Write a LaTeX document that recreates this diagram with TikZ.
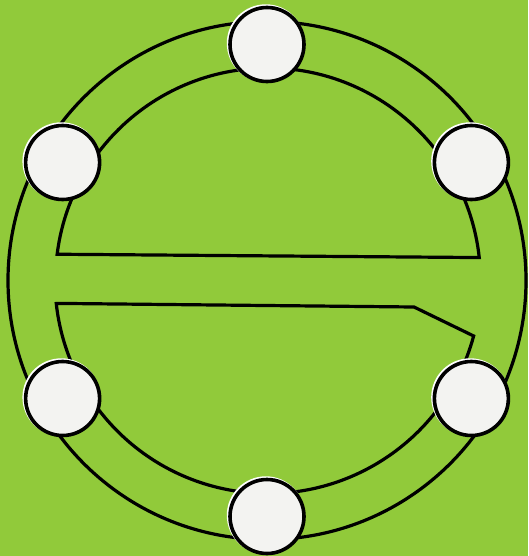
\documentclass[tikz,border=0pt]{standalone}
\usetikzlibrary{calc}
\definecolor{bggreen}{RGB}{145,202,58}
\definecolor{discwhite}{RGB}{243,243,241}
\begin{document}
\begin{tikzpicture}[x=1pt,y=1pt,
  ringline/.style={draw=black,line width=3.2pt},
  disc/.style={circle,draw=black,fill=discwhite,line width=3.6pt,minimum size=74pt,inner sep=0pt},
  halo/.style={circle,fill=white,minimum size=78pt,inner sep=0pt}]
\fill[bggreen] (0,0) rectangle (528,-556);
\useasboundingbox (0,0) rectangle (528,-556);
\coordinate (C) at (267,-280.5);
\coordinate (Ci) at (268,-280.5);
% outer ring
\draw[ringline] (C) circle[radius=259];
% upper inner region
\draw[ringline,line join=miter] ($(Ci)+(6.2:212.5)$) arc[start angle=6.2,end angle=172.9,radius=212.5] -- cycle;
% lower inner region
\coordinate (bend) at (414,-307);
\draw[ringline,line join=miter] ($(Ci)+(186.2:212)$) coordinate (ll) -- (bend) -- ($(Ci)+(-15.1:213)$) arc[start angle=-15.1,end angle=-173.8,radius=213] -- cycle;
% discs
\foreach \a/\n in {90/dt,150/dul,30/dur,210/dll,330/dlr,270/db}{
  \node[halo] (h\n) at ($(C)+(\a:236)+(-1.2,1.2)$) {};
  \node[disc] (\n) at ($(C)+(\a:236)$) {};
}
\end{tikzpicture}
\end{document}
